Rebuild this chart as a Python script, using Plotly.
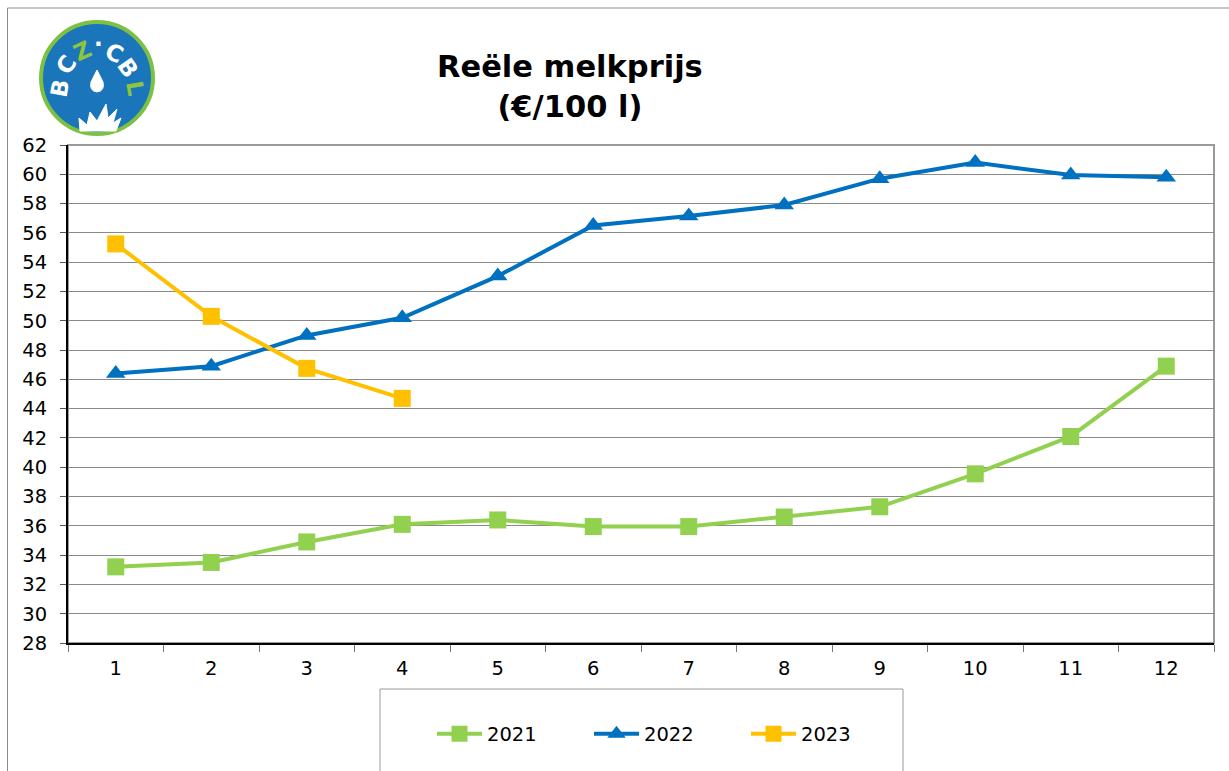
import plotly.graph_objects as go

months = ["1", "2", "3", "4", "5", "6", "7", "8", "9", "10", "11", "12"]
y2021 = [33.2, 33.5, 34.9, 36.1, 36.4, 35.95, 35.95, 36.6, 37.3, 39.55, 42.1, 46.9]
y2022 = [46.4, 46.9, 49.0, 50.2, 53.05, 56.5, 57.15, 57.9, 59.7, 60.8, 59.95, 59.8]
y2023 = [55.25, 50.3, 46.75, 44.7]
series_names = ["2021", "2022", "2023"]
colors = ["#92D050", "#0070C0", "#FFC000"]
title_lines = ["Reële melkprijs", "(€/100 l)"]

W, H = 1229, 771
L, R, T, B = 68, 1214, 145, 643


def px(x):
    return (x - L) / (R - L)


def py(y):
    return (B - y) / (B - T)


FONT = "DejaVu Sans, Verdana, sans-serif"

fig = go.Figure()
fig.add_trace(go.Scatter(x=months, y=y2021, name=series_names[0], mode="lines+markers",
                         line=dict(color=colors[0], width=4),
                         marker=dict(symbol="square", size=17, color=colors[0])))
fig.add_trace(go.Scatter(x=months, y=y2022, name=series_names[1], mode="lines+markers",
                         line=dict(color=colors[1], width=4),
                         marker=dict(symbol="triangle-up", size=17, color=colors[1])))
fig.add_trace(go.Scatter(x=months[:len(y2023)], y=y2023, name=series_names[2], mode="lines+markers",
                         line=dict(color=colors[2], width=4),
                         marker=dict(symbol="square", size=17, color=colors[2])))

shapes = []
# outer chart border
shapes.append(dict(type="rect", xref="paper", yref="paper", x0=px(7.5), x1=px(1240), y0=py(790), y1=py(8),
                   line=dict(color="#8c8c8c", width=1), layer="below"))
# plot area border
shapes.append(dict(type="rect", xref="paper", yref="paper", x0=0, x1=1, y0=0, y1=1,
                   line=dict(color="#9a9a9a", width=2), layer="below"))
# legend box
shapes.append(dict(type="rect", xref="paper", yref="paper", x0=px(380), x1=px(903), y0=py(790), y1=py(689),
                   line=dict(color="#9a9a9a", width=1), layer="below"))
# logo circle
cx, cy, r = 97, 78, 56
shapes.append(dict(type="circle", xref="paper", yref="paper", x0=px(cx - r), x1=px(cx + r),
                   y0=py(cy + r), y1=py(cy - r), fillcolor="#1B75BB",
                   line=dict(color="#7CC142", width=4), layer="above"))


def P(x, y):
    return f"{px(x)},{py(y)}"


drop = (f"M {P(97, 70)} L {P(91, 82)} Q {P(89, 91)} {P(97, 92)} Q {P(105, 91)} {P(103, 82)} Z")
shapes.append(dict(type="path", xref="paper", yref="paper", path=drop, fillcolor="white",
                   line=dict(color="white", width=1), layer="above"))
splash = (f"M {P(80, 131)} L {P(79, 118)} L {P(87, 125)} L {P(90, 112)} L {P(97, 121)} "
          f"L {P(106, 104)} L {P(108, 118)} L {P(117, 109)} L {P(113, 123)} L {P(121, 118)} "
          f"L {P(116, 131)} Z")
shapes.append(dict(type="path", xref="paper", yref="paper", path=splash, fillcolor="white",
                   line=dict(color="white", width=1), layer="above"))

annotations = []
annotations.append(dict(xref="paper", yref="paper", x=px(570), y=py(86), xanchor="center", yanchor="middle",
                        text="<b>" + title_lines[0] + "</b><br><b>" + title_lines[1] + "</b>",
                        showarrow=False, font=dict(family=FONT, size=30.5, color="black")))
letters = [("B", 60, 88, -80, "white"), ("C", 66, 65, -55, "white"), ("Z", 82, 51, -25, "#8CC63F"),
           ("·", 98, 44, 0, "white"), ("C", 114, 53, 25, "white"), ("B", 128, 68, 55, "white"),
           ("L", 135, 88, 80, "#8CC63F")]
for ch, x, y, ang, col in letters:
    annotations.append(dict(xref="paper", yref="paper", x=px(x), y=py(y), xanchor="center", yanchor="middle",
                            text="<b>" + ch + "</b>", textangle=ang, showarrow=False,
                            font=dict(family=FONT, size=23, color=col)))

fig.update_layout(
    width=W, height=H,
    margin=dict(l=L, r=W - R, t=T, b=H - B, pad=0),
    paper_bgcolor="white", plot_bgcolor="white",
    font=dict(family=FONT, size=19, color="black"),
    showlegend=True,
    legend=dict(orientation="h", x=px(432), y=py(734), xanchor="left", yanchor="middle",
                font=dict(family=FONT, size=19.5, color="black"),
                entrywidth=97, entrywidthmode="pixels", itemwidth=45,
                bgcolor="rgba(0,0,0,0)"),
    shapes=shapes, annotations=annotations,
    hovermode=False,
)
fig.update_xaxes(type="category", range=[-0.5, 11.5], tickson="boundaries", ticks="outside",
                 ticklen=7, tickcolor="#777", showline=True, linecolor="black", linewidth=2,
                 showgrid=False, tickfont=dict(family=FONT, size=19.5, color="black"),
                 ticklabelstandoff=7, fixedrange=True)
fig.update_yaxes(range=[28, 62], dtick=2, tick0=28, ticks="outside", ticklen=6, tickcolor="#555",
                 showline=True, linecolor="black", linewidth=2, showgrid=True, gridcolor="#8a8a8a",
                 gridwidth=1, zeroline=False, tickfont=dict(family=FONT, size=19.5, color="black"),
                 ticklabelstandoff=9, fixedrange=True)

fig.write_html("out.html", config={"displayModeBar": False},
               post_script="document.body.style.margin='0px';")
